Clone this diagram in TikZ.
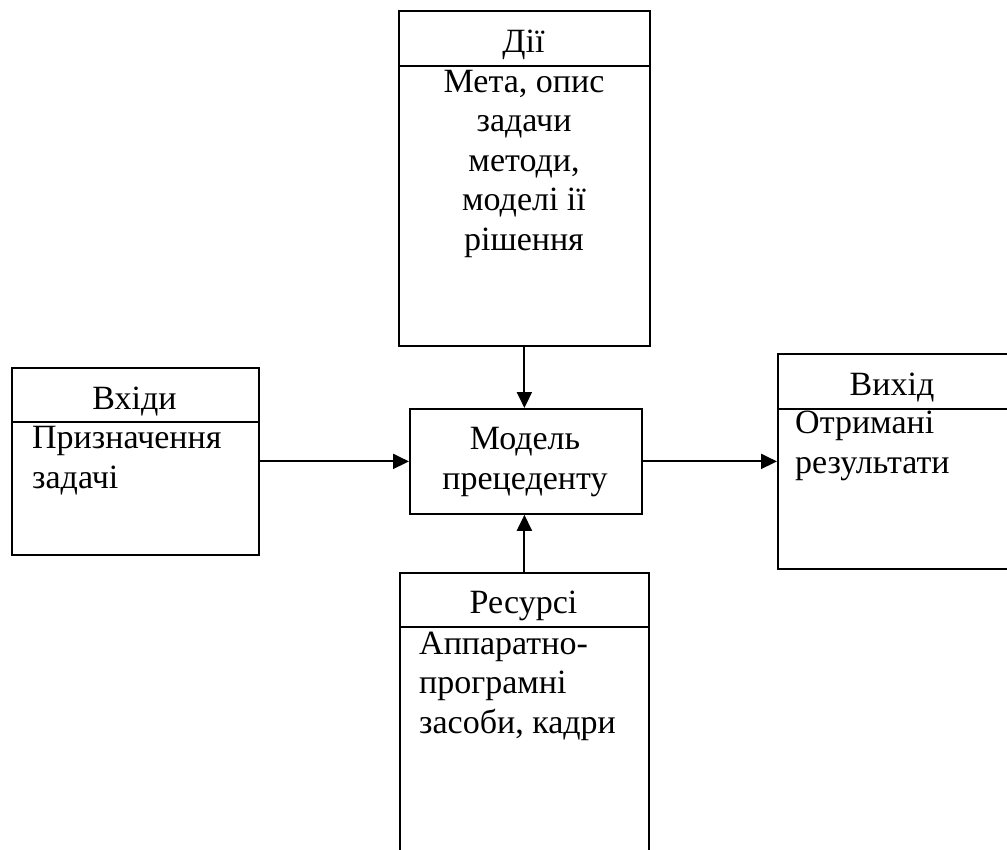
\documentclass[tikz,border=0pt]{standalone}
\usepackage{fontspec}
\setmainfont{Liberation Serif}
\usetikzlibrary{arrows.meta}
\begin{document}
\begin{tikzpicture}[x=1pt,y=-1pt,
  box/.style={draw, line width=1.8pt, inner sep=0pt, anchor=north west},
  sep/.style={line width=1.8pt},
  txt/.style={font=\fontsize{34}{39.5}\selectfont, inner sep=0pt},
  arr/.style={-{Triangle[length=16pt,width=15pt]}, line width=2pt}]
\clip (0,0) rectangle (1007,849);
\useasboundingbox (0,0) rectangle (1007,849);
% boxes
\node[box, minimum width=251pt, minimum height=335pt] (act) at (398,10) {};
\node[box, minimum width=232pt, minimum height=105pt] (model) at (409,408) {};
\node[box, minimum width=247pt, minimum height=187pt] (inp) at (11,367) {};
\node[box, minimum width=240pt, minimum height=215pt] (out) at (777,353) {};
\node[box, minimum width=249pt, minimum height=300pt] (res) at (399,572) {};
% dividers
\draw[sep] (398,66) -- (649,66);
\draw[sep] (11,422) -- (258,422);
\draw[sep] (777,409) -- (1010,409);
\draw[sep] (399,627) -- (648,627);
% texts (multi-line nodes: base = baseline of last line)
\node[txt, anchor=base] (acth) at (523.5,52) {Дії};
\node[txt, anchor=base, align=center] (actb) at (524,250) {Мета, опис\\задачи\\методи,\\моделі ії\\рішення};
\node[txt, anchor=base, align=center] (modelt) at (525,489) {Модель\\прецеденту};
\node[txt, anchor=base] (inph) at (134.5,409) {Вхіди};
\node[txt, anchor=base west, align=left] (inpb) at (32,488) {Призначення\\задачі};
\node[txt, anchor=base] (outh) at (892,395) {Вихід};
\node[txt, anchor=base west, align=left] (outb) at (795,473) {Отримані\\результати};
\node[txt, anchor=base] (resh) at (523.5,613) {Ресурсі};
\node[txt, anchor=base west, align=left] (resb) at (419,733) {Аппаратно-\\програмні\\засоби, кадри};
% arrows
\draw[arr] (act.south) -- (act.south |- model.north);
\draw[arr] (res.north) -- (res.north |- model.south);
\draw[arr] (inp.east |- model.west) -- (model.west);
\draw[arr] (model.east) -- (model.east -| out.west);
\end{tikzpicture}
\end{document}
